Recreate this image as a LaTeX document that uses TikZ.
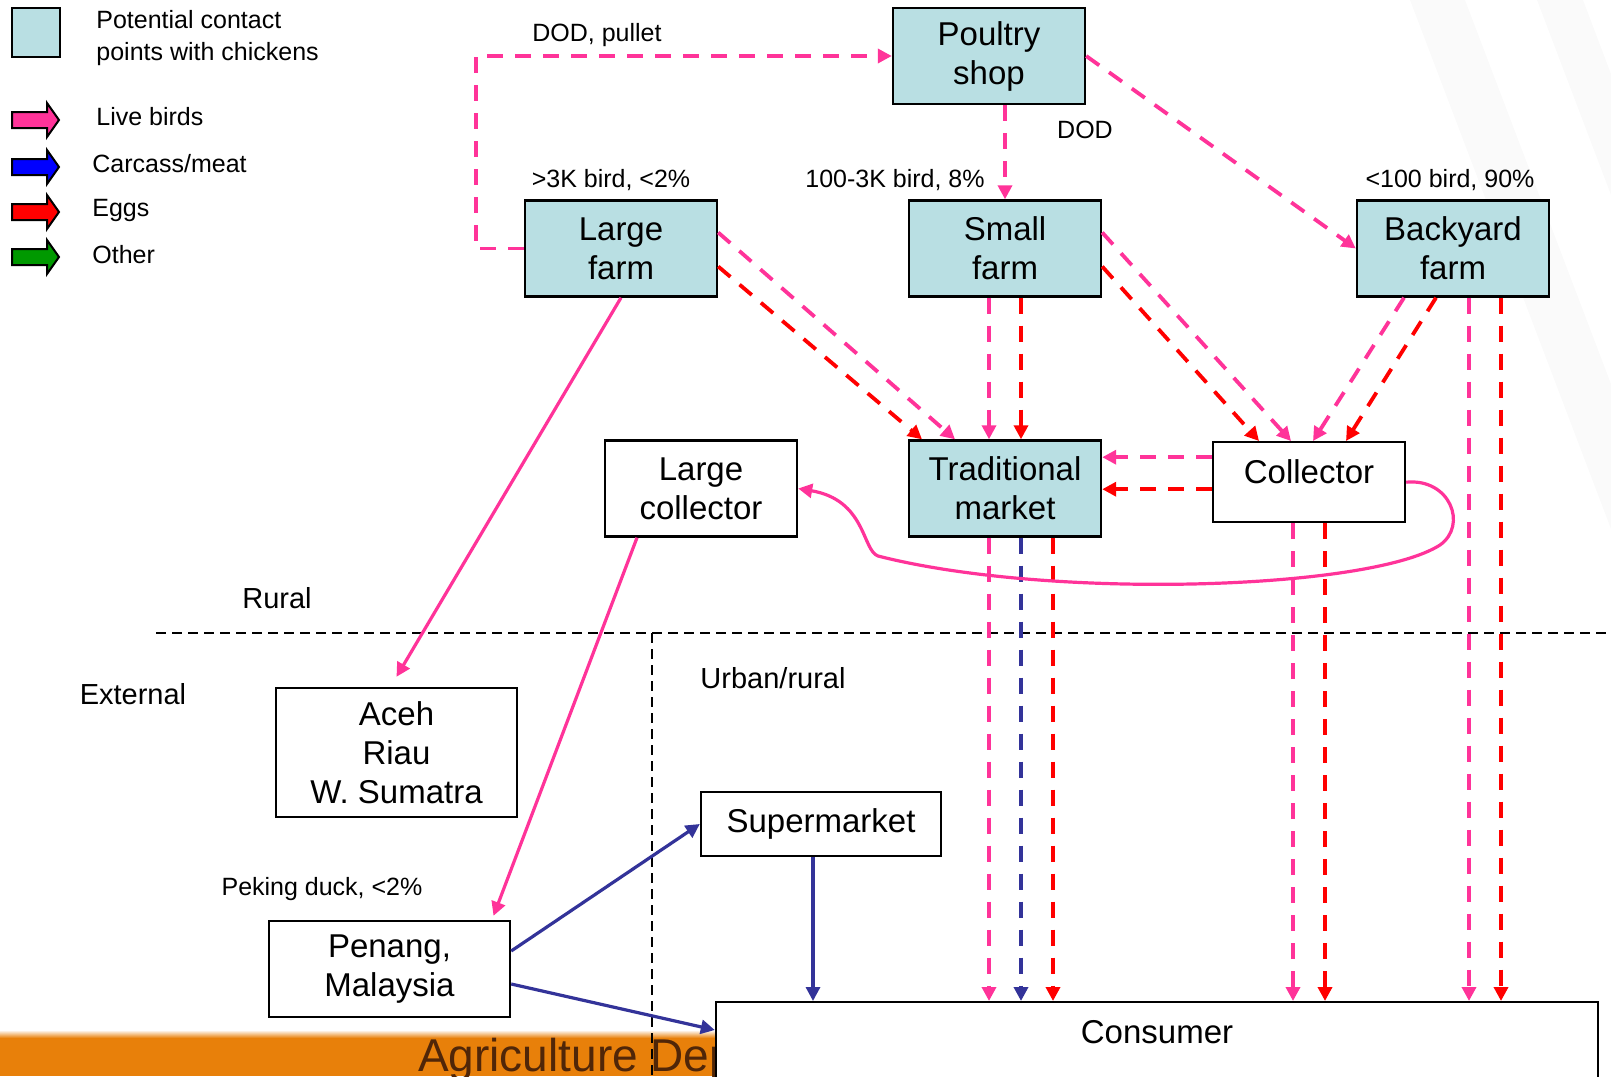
\documentclass[tikz,border=0pt]{standalone}
\usepackage{fontspec}
\setmainfont{Liberation Sans}
\usetikzlibrary{arrows.meta}
\definecolor{contactblue}{RGB}{185,223,227}
\definecolor{livepink}{RGB}{255,51,153}
\definecolor{eggred}{RGB}{255,0,0}
\definecolor{meatblue}{RGB}{51,51,153}
\definecolor{legblue}{RGB}{0,0,255}
\definecolor{leggreen}{RGB}{0,153,0}
\definecolor{bandorange}{RGB}{232,128,10}
\definecolor{bandbrown}{RGB}{80,38,8}
\tikzstyle{contact}=[rectangle,draw=black,fill=contactblue,line width=1.2pt,
                     minimum width=96pt,minimum height=48pt,align=center,
                     font=\fontsize{16.5}{19.5}\selectfont]
\tikzstyle{plainbox}=[contact,fill=white]
\tikzstyle{smalltxt}=[font=\fontsize{12.5}{16}\selectfont,align=left]
\tikzstyle{zonetxt}=[font=\fontsize{14.5}{17}\selectfont]
\tikzstyle{livedash}=[draw=livepink,line width=1.9pt,dash pattern=on 8pt off 6pt,->]
\tikzstyle{eggdash}=[draw=eggred,line width=1.9pt,dash pattern=on 8pt off 6pt,->]
\tikzstyle{meatdash}=[draw=meatblue,line width=1.9pt,dash pattern=on 8pt off 6pt,->]
\tikzstyle{livesolid}=[draw=livepink,line width=1.6pt,->]
\tikzstyle{meatsolid}=[draw=meatblue,line width=1.6pt,->]
\tikzstyle{zoneline}=[draw=black,line width=1pt,dash pattern=on 5pt off 3pt]

\begin{document}
\begin{tikzpicture}[x=0.5pt,y=-0.5pt,>={Triangle[length=7pt,width=7pt]}]
    \newcommand{\legarrow}[2]{%
      \draw[fill=#2,line width=1pt] (12,#1-8) -- (47,#1-8) -- (47,#1-17)
        -- (59,#1) -- (47,#1+17) -- (47,#1+8) -- (12,#1+8) -- cycle;}
    \useasboundingbox (0,0) rectangle (1611,1076);
    \clip (0,0) rectangle (1611,1076);
    % background
    \fill[gray!4] (1410,0) -- (1465,0) -- (1611,384) -- (1611,529) -- cycle;
    \fill[gray!4] (1537,0) -- (1583,0) -- (1611,74) -- (1611,195) -- cycle;
    \shade[top color=white,bottom color=bandorange] (0,1030) rectangle (716,1038);
    \fill[bandorange] (0,1038) rectangle (716,1076);
    \node (agri) at (411,1071) [anchor=base west,text=bandbrown,
          font=\fontsize{23}{23}\selectfont] {Agriculture Dep};

    % legend
    \draw[fill=contactblue,line width=1.2pt] (12,8) rectangle (60,57);
    \node (leg0) at (96,38) [smalltxt,anchor=west,inner xsep=0pt] {Potential contact\\points with chickens};
    \legarrow{120}{livepink}
    \legarrow{167}{legblue}
    \legarrow{212}{eggred}
    \legarrow{257}{leggreen}
    \node (leg1) at (96,117) [smalltxt,anchor=west,inner xsep=0pt] {Live birds};
    \node (leg2) at (92,164) [smalltxt,anchor=west,inner xsep=0pt] {Carcass/meat};
    \node (leg3) at (92,210) [smalltxt,anchor=west,inner xsep=0pt] {Eggs};
    \node (leg4) at (92,255) [smalltxt,anchor=west,inner xsep=0pt] {Other};

    % zones
    \draw[zoneline] (156,633) -- (1611,633);
    \draw[zoneline] (652,633) -- (652,1076);
    \node (rural) at (277,598) [zonetxt] {Rural};
    \node (extern) at (133,694) [zonetxt] {External};
    \node (urban) at (773,678) [zonetxt] {Urban/rural};

    % boxes
    \node (shop) at (989,56) [contact] {Poultry\\shop};
    \node (lfarm) at (621,248.5) [contact] {Large\\farm};
    \node (sfarm) at (1005,248.5) [contact] {Small\\farm};
    \node (byard) at (1453,248.5) [contact] {Backyard\\farm};
    \node (lcoll) at (701,488.5) [plainbox] {Large\\collector};
    \node (tmkt) at (1005,488.5) [contact] {Traditional\\market};
    \node (coll) at (1309,441) [plainbox,anchor=north,minimum height=0pt,
          inner ysep=0pt,text height=20.5pt,text depth=19.5pt] {Collector};
    \node (aceh) at (396.5,752.5) [plainbox,minimum width=120.5pt,
          minimum height=64.5pt] {Aceh\\Riau\\W. Sumatra};
    \node (smkt) at (821,824) [plainbox,minimum width=120pt,
          minimum height=32pt] {Supermarket};
    \node (penang) at (389.5,969) [plainbox,minimum width=120.5pt] {Penang,\\Malaysia};
    \node (cons) at (1157,1001) [plainbox,anchor=north,minimum width=441pt,
          minimum height=0pt,inner ysep=0pt,text height=20.5pt,
          text depth=24pt] {Consumer};

    % labels
    \node (lbl1) at (597,35) [smalltxt] {DOD, pullet};
    \node (lbl2) at (1085,130) [smalltxt] {DOD};
    \node (lbl3) at (611,180) [smalltxt] {>3K bird, <2\%};
    \node (lbl4) at (895,180) [smalltxt] {100-3K bird, 8\%};
    \node (lbl5) at (1450,180) [smalltxt] {<100 bird, 90\%};
    \node (lbl6) at (322,889) [smalltxt] {Peking duck, <2\%};

    % flows
    \draw[livedash] (lfarm.west) -- ++(-24pt,0) |- (shop.west);
    \draw[livedash] ([xshift=8pt]shop.south) -- ([xshift=8pt]shop.south |- sfarm.north);
    \draw[livedash] (shop.east) -- (byard.west);
    \draw[livedash] ([yshift=8pt]lfarm.east) -- ([xshift=-25pt]tmkt.north);
    \draw[eggdash] ([yshift=-9pt]lfarm.east) -- ([xshift=-41.5pt]tmkt.north);
    \draw[livedash] ([xshift=-8pt]sfarm.south) -- ([xshift=-8pt]tmkt.north);
    \draw[eggdash] ([xshift=8pt]sfarm.south) -- ([xshift=8pt]tmkt.north);
    \draw[livedash] ([yshift=8pt]sfarm.east) -- ([xshift=-9pt]coll.north);
    \draw[eggdash] ([yshift=-9pt]sfarm.east) -- ([xshift=-25pt]coll.north);
    \draw[livedash] ([xshift=-24.5pt]byard.south) -- ([xshift=2pt]coll.north);
    \draw[eggdash] ([xshift=-8.5pt]byard.south) -- ([xshift=18.5pt]coll.north);
    \draw[livedash] ([xshift=8pt]byard.south) -- ([xshift=8pt]byard.south |- cons.north);
    \draw[eggdash] ([xshift=24pt]byard.south) -- ([xshift=24pt]byard.south |- cons.north);
    \draw[livedash] ([yshift=12.5pt]coll.west) -- ([yshift=12.5pt]coll.west -| tmkt.east);
    \draw[eggdash] ([yshift=-3.5pt]coll.west) -- ([yshift=-3.5pt]coll.west -| tmkt.east);
    \draw[livedash] ([xshift=-8pt]tmkt.south) -- ([xshift=-8pt]tmkt.south |- cons.north);
    \draw[meatdash] ([xshift=8pt]tmkt.south) -- ([xshift=8pt]tmkt.south |- cons.north);
    \draw[eggdash] ([xshift=24pt]tmkt.south) -- ([xshift=24pt]tmkt.south |- cons.north);
    \draw[livedash] ([xshift=-8pt]coll.south) -- ([xshift=-8pt]coll.south |- cons.north);
    \draw[eggdash] ([xshift=8pt]coll.south) -- ([xshift=8pt]coll.south |- cons.north);
    \draw[livesolid] (coll.east) .. controls (1450,478) and (1468,525) .. (1440,545)
          .. controls (1370,590) and (1050,600) .. (878,556)
          .. controls (862,550) and (866,500) .. (lcoll.east);
    \draw[livesolid] (lfarm.south) -- ([yshift=5pt]aceh.north);
    \draw[livesolid] ([xshift=-32pt]lcoll.south) -- ([xshift=52pt,yshift=2pt]penang.north);
    \draw[meatsolid] ([yshift=9pt]penang.east) -- (smkt.west);
    \draw[meatsolid] ([yshift=-7.5pt]penang.east) -- ([yshift=-14.5pt]cons.north west);
    \draw[meatsolid] ([xshift=-4pt]smkt.south) -- ([xshift=-4pt]smkt.south |- cons.north);
\end{tikzpicture}
\end{document}
